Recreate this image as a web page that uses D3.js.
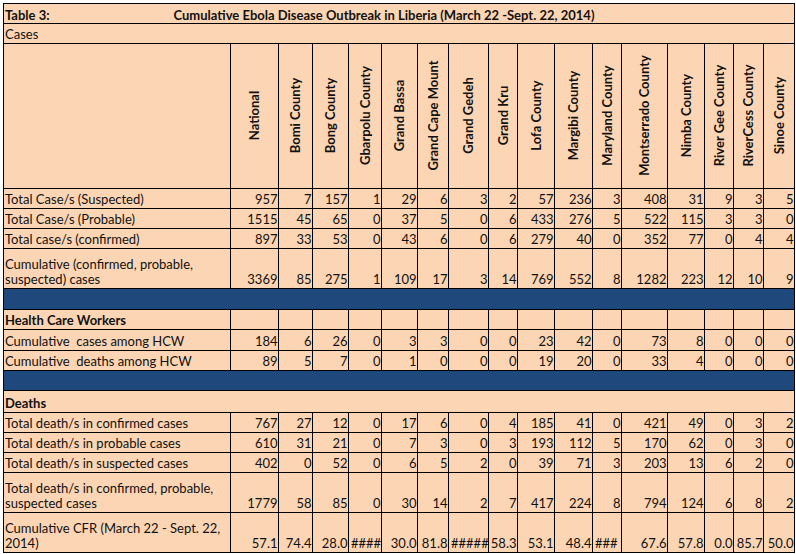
<!DOCTYPE html>
<html>
<head>
<meta charset="utf-8">
<script src="https://cdn.jsdelivr.net/npm/d3@7"></script>
<style>
  html, body { margin: 0; padding: 0; background: #fff; }
  svg text { font-family: Lato, "Open Sans", sans-serif; white-space: pre; fill: #111; }
</style>
</head>
<body>
<svg id="table"></svg>
<script>
'use strict';

// ---- data ----
const tableNo = 'Table 3:';
const title = 'Cumulative Ebola Disease Outbreak in Liberia (March 22 -Sept. 22, 2014)';
const counties = ['National', 'Bomi County', 'Bong County', 'Gbarpolu County', 'Grand Bassa',
    'Grand Cape Mount', 'Grand Gedeh', 'Grand Kru', 'Lofa County', 'Margibi County',
    'Maryland County', 'Montserrado County', 'Nimba County', 'River Gee County',
    'RiverCess County', 'Sinoe County'];

const casesSuspected = [957, 7, 157, 1, 29, 6, 3, 2, 57, 236, 3, 408, 31, 9, 3, 5];
const casesProbable = [1515, 45, 65, 0, 37, 5, 0, 6, 433, 276, 5, 522, 115, 3, 3, 0];
const casesConfirmed = [897, 33, 53, 0, 43, 6, 0, 6, 279, 40, 0, 352, 77, 0, 4, 4];
const casesCumulative = [3369, 85, 275, 1, 109, 17, 3, 14, 769, 552, 8, 1282, 223, 12, 10, 9];
const hcwCases = [184, 6, 26, 0, 3, 3, 0, 0, 23, 42, 0, 73, 8, 0, 0, 0];
const hcwDeaths = [89, 5, 7, 0, 1, 0, 0, 0, 19, 20, 0, 33, 4, 0, 0, 0];
const deathsConfirmed = [767, 27, 12, 0, 17, 6, 0, 4, 185, 41, 0, 421, 49, 0, 3, 2];
const deathsProbable = [610, 31, 21, 0, 7, 3, 0, 3, 193, 112, 5, 170, 62, 0, 3, 0];
const deathsSuspected = [402, 0, 52, 0, 6, 5, 2, 0, 39, 71, 3, 203, 13, 6, 2, 0];
const deathsTotal = [1779, 58, 85, 0, 30, 14, 2, 7, 417, 224, 8, 794, 124, 6, 8, 2];
// overflowed cells show as #### in the sheet
const cfr = ['57.1', '74.4', '28.0', '####', '30.0', '81.8', '#####', '58.3', '53.1', '48.4',
    '###', '67.6', '57.8', '0.0', '85.7', '50.0'];

// row list: kind decides borders / fill
const rows = [
    {kind: 'title'},
    {kind: 'section', label: 'Cases', bold: false},
    {kind: 'header'},
    {kind: 'data', label: ['Total Case/s (Suspected)'], values: casesSuspected},
    {kind: 'data', label: ['Total Case/s (Probable)'], values: casesProbable},
    {kind: 'data', label: ['Total case/s (confirmed)'], values: casesConfirmed},
    {kind: 'data', label: ['Cumulative (confirmed, probable,', 'suspected) cases'], values: casesCumulative},
    {kind: 'band'},
    {kind: 'subhead', label: ['Health Care Workers'], values: null},
    {kind: 'data', label: ['Cumulative  cases among HCW'], values: hcwCases},
    {kind: 'data', label: ['Cumulative  deaths among HCW'], values: hcwDeaths},
    {kind: 'band'},
    {kind: 'section', label: 'Deaths', bold: true},
    {kind: 'data', label: ['Total death/s in confirmed cases'], values: deathsConfirmed},
    {kind: 'data', label: ['Total death/s in probable cases'], values: deathsProbable},
    {kind: 'data', label: ['Total death/s in suspected cases'], values: deathsSuspected},
    {kind: 'data', label: ['Total death/s in confirmed, probable,', 'suspected cases'], values: deathsTotal},
    {kind: 'data', label: ['Cumulative CFR (March 22 - Sept. 22,', '2014)'], values: cfr}
];

// ---- layout ----
const W = 796, H = 554;
const tLeft = 3, tTop = 3;
const labelW = 227;
const colW = [48, 34, 36, 33, 36, 31, 40, 29, 37, 38, 29, 46, 37, 29, 30, 31];
const rowH = [20, 20, 145, 20, 20, 20, 40, 21, 20, 21, 20, 20, 22, 20, 20, 20, 40, 40];
const peach = '#fcd5b4';
const navy = '#1f497d';
const fontSize = 13;

const colEdges = d3.cumsum([tLeft + labelW].concat(colW));
const rowEdges = d3.cumsum([tTop].concat(rowH));
const x0 = d3.scaleOrdinal().domain(counties).range(colEdges.slice(0, -1));
const x1 = d3.scaleOrdinal().domain(counties).range(colEdges.slice(1));
const yTop = d3.scaleOrdinal().domain(d3.range(rows.length)).range(rowEdges.slice(0, -1));
const yBot = d3.scaleOrdinal().domain(d3.range(rows.length)).range(rowEdges.slice(1));
const tRight = colEdges[colEdges.length - 1];
const tBottom = rowEdges[rowEdges.length - 1];

const svg = d3.select('#table').attr('width', W).attr('height', H);

svg.append('rect')
    .attr('x', tLeft).attr('y', tTop)
    .attr('width', tRight - tLeft).attr('height', tBottom - tTop)
    .attr('fill', peach);

svg.selectAll('.band')
    .data(rows.map((r, i) => i).filter(i => rows[i].kind === 'band'))
    .enter().append('rect')
    .attr('class', 'band')
    .attr('x', tLeft).attr('y', i => yTop(i))
    .attr('width', tRight - tLeft).attr('height', i => yBot(i) - yTop(i))
    .attr('fill', navy);

// horizontal rules
const grid = svg.append('g').attr('stroke', '#000').attr('stroke-width', 1).attr('shape-rendering', 'crispEdges');
grid.selectAll('.hline')
    .data(rowEdges)
    .enter().append('line')
    .attr('x1', tLeft).attr('x2', tRight)
    .attr('y1', d => d + 0.5).attr('y2', d => d + 0.5);

// outer verticals
[tLeft, tRight].forEach(x => {
    grid.append('line').attr('x1', x + 0.5).attr('x2', x + 0.5)
        .attr('y1', tTop).attr('y2', tBottom + 1);
});

// inner verticals only where cells are not merged
const gridRows = rows.map((r, i) => i).filter(i => ['header', 'data', 'subhead'].includes(rows[i].kind));
gridRows.forEach(i => {
    grid.selectAll(null)
        .data(colEdges.slice(0, -1))
        .enter().append('line')
        .attr('x1', d => d + 0.5).attr('x2', d => d + 0.5)
        .attr('y1', yTop(i)).attr('y2', yBot(i) + 1);
});

// title row
svg.append('text')
    .attr('x', tLeft + 2).attr('y', yBot(0) - 3.5)
    .attr('font-size', fontSize).attr('font-weight', 'bold')
    .text(tableNo);
svg.append('text')
    .attr('x', 384).attr('y', yBot(0) - 3.5)
    .attr('text-anchor', 'middle')
    .attr('font-size', fontSize).attr('font-weight', 'bold')
    .text(title);

// section rows
rows.forEach((r, i) => {
    if (r.kind === 'section') {
        svg.append('text')
            .attr('x', tLeft + 2).attr('y', yBot(i) - 4)
            .attr('font-size', fontSize)
            .attr('font-weight', r.bold ? 'bold' : 'normal')
            .text(r.label);
    }
});

// rotated county headers
const hi = rows.findIndex(r => r.kind === 'header');
svg.selectAll('.colhead')
    .data(counties)
    .enter().append('text')
    .attr('class', 'colhead')
    .attr('transform', d => 'translate(' + ((x0(d) + x1(d)) / 2 + 5) + ',' + ((yTop(hi) + yBot(hi)) / 2) + ') rotate(-90)')
    .attr('text-anchor', 'middle')
    .attr('font-size', fontSize)
    .attr('font-weight', 'bold')
    .text(d => d);

// row labels and values
rows.forEach((r, i) => {
    if (r.kind !== 'data' && r.kind !== 'subhead') return;
    const lines = r.label;
    svg.append('g').selectAll('text')
        .data(lines)
        .enter().append('text')
        .attr('x', tLeft + 2)
        .attr('y', (d, k) => yBot(i) - 4 - (lines.length - 1 - k) * 15)
        .attr('font-size', fontSize)
        .attr('font-weight', r.kind === 'subhead' ? 'bold' : 'normal')
        .text(d => d);
    if (!r.values) return;
    svg.append('g').selectAll('text')
        .data(r.values)
        .enter().append('text')
        .attr('x', (d, k) => String(d).startsWith('#') ? x0(counties[k]) + 3 : x1(counties[k]) - 0.5)
        .attr('y', yBot(i) - 4)
        .attr('text-anchor', d => String(d).startsWith('#') ? 'start' : 'end')
        .attr('font-size', fontSize)
        .text(d => d);
});
</script>
</body>
</html>
